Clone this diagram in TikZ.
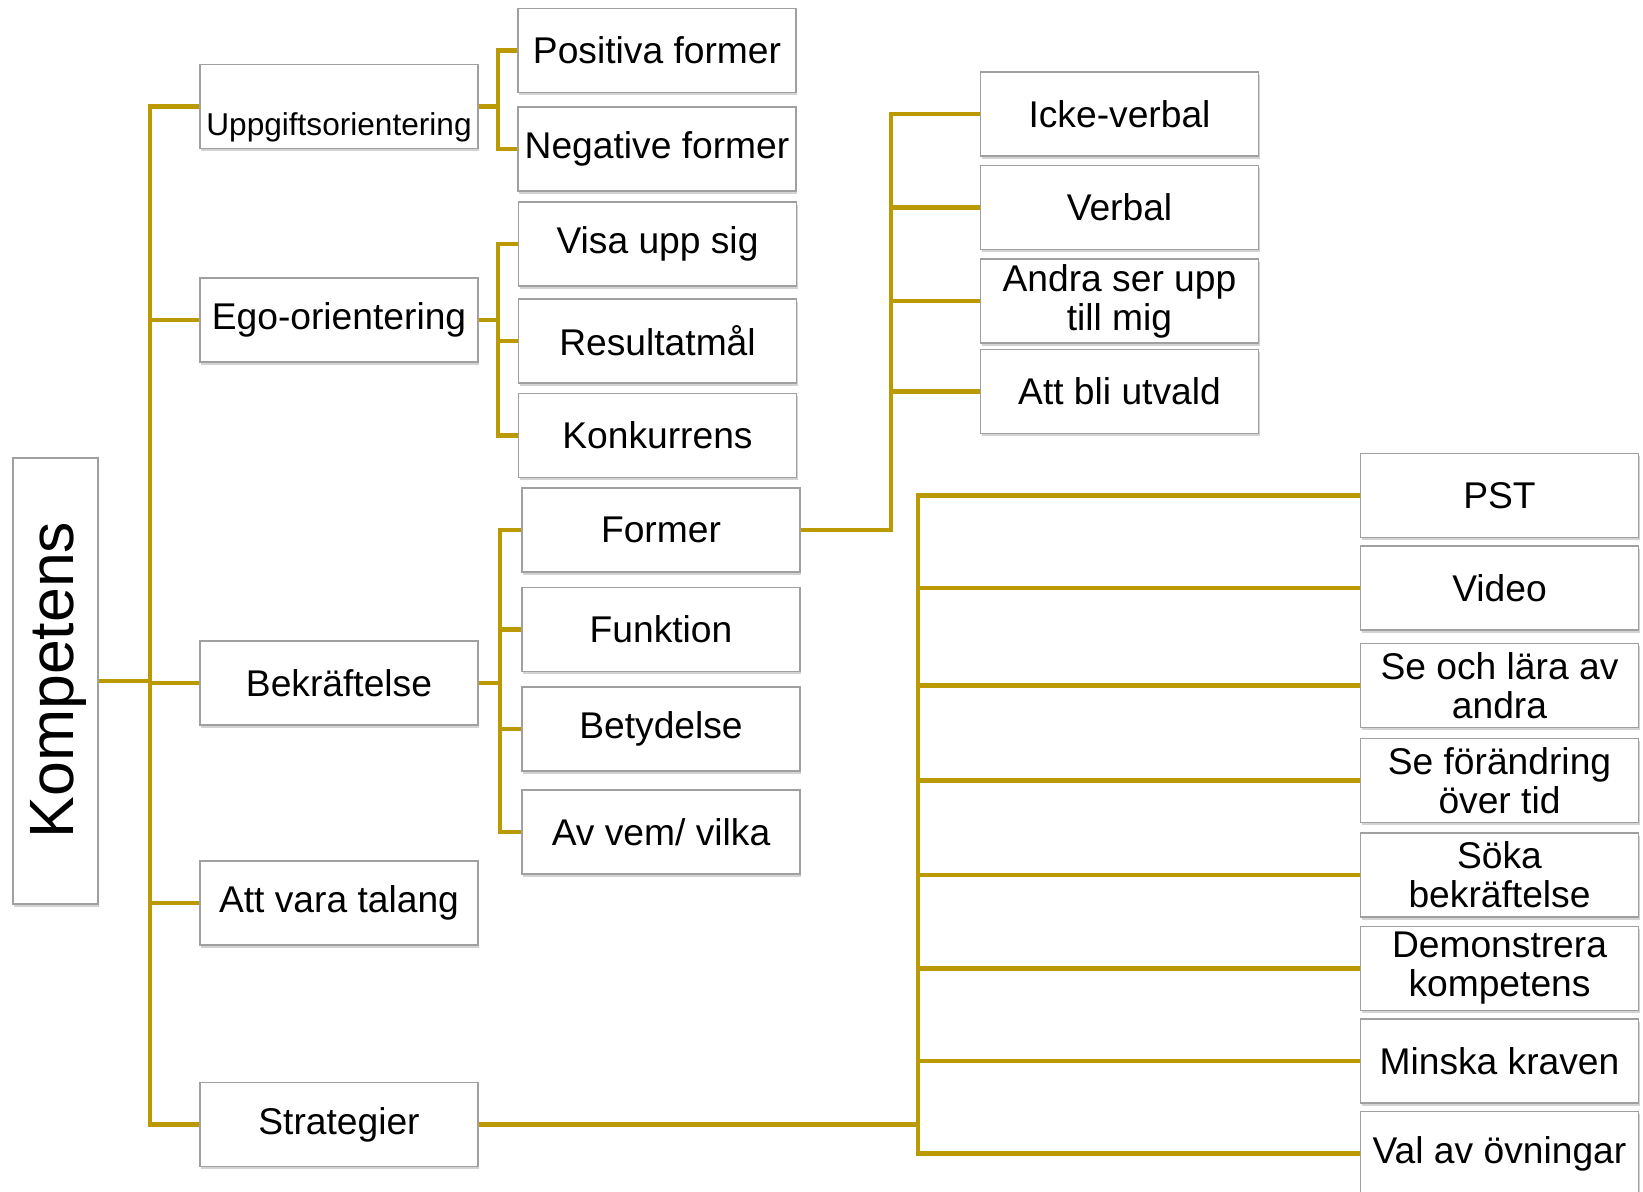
\documentclass[tikz,border=0pt]{standalone}
\usepackage{fontspec}
\setmainfont{Liberation Sans}
\usetikzlibrary{shadows}
\definecolor{gold}{RGB}{186,154,0}
\definecolor{boxline}{RGB}{160,160,160}
\begin{document}
\begin{tikzpicture}[x=0.5pt,y=-0.5pt,
  box/.style={draw=boxline, line width=0.75pt, fill=white, inner sep=0pt, align=center,
    minimum width=139pt, minimum height=42pt,
    drop shadow={shadow xshift=0.6pt, shadow yshift=-1.4pt, opacity=0.35, fill=gray},
    font=\fontsize{18.6}{19.5}\selectfont},
  link/.style={draw=gold, line width=2.3pt}]
\useasboundingbox (0,0) rectangle (1643,1192);
% root
\node[box, minimum width=42.5pt, minimum height=223pt] (komp) at (55.5,681) {};
\node[rotate=90, font=\fontsize{31.3}{32}\selectfont] (kompt) at (58,680) {Kompetens};
% level 1
\node[box] (uppg) at (339,106.5) {};
\node[font=\fontsize{15.8}{16}\selectfont] (uppgt) at (339,127) {Uppgiftsorientering};
\node[box] (ego) at (339,320) {Ego-orientering};
\node[box] (bekr) at (339,683) {Bekräftelse};
\node[box] (talang) at (339,903) {Att vara talang};
\node[box] (strat) at (339,1124.5) {Strategier};
% level 2
\node[box] (pos) at (657,50.5) {Positiva former};
\node[box] (neg) at (657,149) {Negative former};
\node[box] (visa) at (657.5,244) {Visa upp sig};
\node[box] (res) at (657.5,341) {Resultatmål};
\node[box] (konk) at (657.5,435.5) {Konkurrens};
\node[box] (former) at (661,530) {Former};
\node[box] (funk) at (661,629.5) {Funktion};
\node[box] (betyd) at (661,729) {Betydelse};
\node[box] (avvem) at (661,832) {Av vem/ vilka};
% level 3 (Former)
\node[box] (icke) at (1119.5,114) {Icke-verbal};
\node[box] (verbal) at (1119.5,207.5) {Verbal};
\node[box] (andra) at (1119.5,301) {Andra ser upp\\till mig};
\node[box] (utvald) at (1119.5,391.5) {Att bli utvald};
% level 3 (Strategier)
\node[box] (pst) at (1499.5,495.5) {PST};
\node[box] (video) at (1499.5,588) {Video};
\node[box] (seoch) at (1499.5,685.5) {Se och lära av\\andra};
\node[box] (seforan) at (1499.5,780.5) {Se förändring\\över tid};
\node[box] (soka) at (1499.5,875) {Söka\\bekräftelse};
\node[box] (demo) at (1499.5,968.5) {Demonstrera\\kompetens};
\node[box] (minska) at (1499.5,1061) {Minska kraven};
\node[box] (val) at (1499.5,1153.5) {Val av övningar};
% bus coordinates
\coordinate (b0) at (150,0);
\coordinate (bU) at (498,0);
\coordinate (bE) at (498,0);
\coordinate (bB) at (500,0);
\coordinate (bF) at (891,0);
\coordinate (bS) at (918,0);
% connectors
\foreach \n in {uppg,ego,bekr,talang,strat}
  \draw[link] (komp.east) -- (komp.east -| b0) |- (\n.west);
\foreach \n in {pos,neg}
  \draw[link] (uppg.east) -- (uppg.east -| bU) |- (\n.west);
\foreach \n in {visa,res,konk}
  \draw[link] (ego.east) -- (ego.east -| bE) |- (\n.west);
\foreach \n in {former,funk,betyd,avvem}
  \draw[link] (bekr.east) -- (bekr.east -| bB) |- (\n.west);
\foreach \n in {icke,verbal,andra,utvald}
  \draw[link] (former.east) -- (former.east -| bF) |- (\n.west);
\foreach \n in {pst,video,seoch,seforan,soka,demo,minska,val}
  \draw[link] (strat.east) -- (strat.east -| bS) |- (\n.west);
\end{tikzpicture}
\end{document}
